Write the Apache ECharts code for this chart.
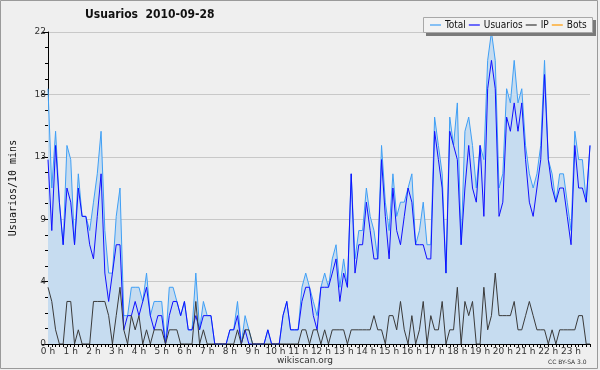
<!DOCTYPE html>
<html>
<head>
<meta charset="utf-8">
<script src="https://cdn.jsdelivr.net/npm/echarts@6/dist/echarts.min.js"></script>
<style>
html,body{margin:0;padding:0;background:#efefef;}
#c{width:600px;height:370px;}
</style>
</head>
<body>
<div id="c"></div>
<script>
// 10-minute slots over the day (144 slots), hour labels every 6 slots
const hourLabels = ['0 h','1 h','2 h','3 h','4 h','5 h','6 h','7 h','8 h','9 h','10 h','11 h','12 h','13 h','14 h','15 h','16 h','17 h','18 h','19 h','20 h','21 h','22 h','23 h'];
const yTicks = [0, 4.4, 8.8, 13.2, 17.6, 22];

const total = [
18,11,15,10,7,14, 13,7,12,9,9,8, 10,12,15,8,5,5, 9,11,2,2,4,4,
4,3,5,2,3,3, 3,0,4,4,3,2, 3,1,1,5,1,3, 2,2,0,0,0,0,
1,1,3,0,2,1, 0,0,0,0,1,0, 0,0,2,3,1,1, 1,4,5,4,3,2,
4,5,4,6,7,4, 6,4,12,6,8,8, 11,9,8,6,14,10, 8,12,9,10,10,11,
12,7,8,10,7,7, 16,14,12,5,16,14, 17,7,15,16,14,11, 14,13,20,22,20,11,
12,18,17,20,17,18, 14,12,11,12,14,20, 13,12,10,12,12,10, 8,15,13,13,10,14
];
const usuarios = [
13,8,14,10,7,11, 10,7,11,9,9,7, 6,9,12,5,3,5, 7,7,1,2,2,3,
2,3,4,2,1,2, 2,0,2,3,3,2, 3,1,1,2,1,2, 2,2,0,0,0,0,
1,1,2,0,1,0, 0,0,0,0,1,0, 0,0,2,3,1,1, 1,3,4,4,2,1,
4,4,4,5,6,3, 5,4,12,5,7,7, 10,8,6,6,13,9, 6,11,8,7,9,11,
10,7,7,7,6,6, 15,13,11,5,15,14, 13,7,11,14,11,10, 14,9,18,20,18,9,
10,16,15,17,15,17, 13,10,9,11,13,19, 13,11,10,11,11,9, 7,14,11,11,10,14
];
const ip = [
4,3,1,0,0,3, 3,0,1,0,0,0, 3,3,3,3,2,0, 2,4,1,0,2,1,
2,0,1,0,1,1, 1,0,1,1,1,0, 0,0,0,3,0,1, 0,0,0,0,0,0,
0,0,1,0,1,1, 0,0,0,0,0,0, 0,0,0,0,0,0, 0,1,1,0,1,1,
0,1,0,1,1,1, 1,0,1,1,1,1, 1,1,2,1,1,0, 2,2,1,3,1,0,
2,0,1,3,0,2, 1,1,3,0,1,1, 4,0,3,2,3,0, 0,4,1,2,5,2,
2,2,2,3,1,1, 2,3,2,1,1,1, 0,1,0,1,1,1, 1,1,2,2,0,0
];
const bots = [
0,0,0,0,0,0, 0,0,0,0,0,0, 0,0,0,0,0,0, 0,0,0,0,0,0,
0,0,0,0,0,0, 0,0,0,0,0,0, 0,0,0,0,0,0, 0,0,0,0,0,0,
0,0,0,0,0,0, 0,0,0,0,0,0, 0,0,0,0,0,0, 0,0,0,0,0,0,
0,0,0,0,0,0, 0,0,0,0,0,0, 0,0,0,0,0,0, 0,0,0,0,0,0,
0,0,0,0,0,0, 0,0,0,0,0,0, 0,0,0,0,0,0, 0,0,0,0,0,0,
0,0,0,0,0,0, 0,0,0,0,0,0, 0,0,0,0,0,0, 0,0,0,0,0,0
];

const slots = [];
for (let i = 0; i < total.length; i++) {
  slots.push(i % 6 === 0 ? hourLabels[i / 6] : '');
}

const chart = echarts.init(document.getElementById('c'), null, {renderer: 'canvas'});
const FONT = 'DejaVu Sans';
const NARROW = '"DejaVu Sans Condensed", "DejaVu Sans"';
chart.setOption({
  backgroundColor: '#efefef',
  animation: false,
  title: {
    text: 'Usuarios  2010-09-28',
    left: 85, top: 9, padding: 0,
    textStyle: {fontFamily: NARROW, fontSize: 12, fontWeight: 'bold', color: '#111'}
  },
  graphic: [
    {type: 'rect', silent: true, z: -10, shape: {x: 0.5, y: 0.5, width: 597, height: 368}, style: {fill: 'none', stroke: '#9a9a9a', lineWidth: 1}},
    {type: 'rect', silent: true, z: 90, shape: {x: 426, y: 20, width: 170, height: 16}, style: {fill: '#7a7a7a'}},
    {type: 'rect', silent: true, z: 91, shape: {x: 423.5, y: 17.5, width: 169, height: 15}, style: {fill: '#f2f2f2', stroke: '#a8a8a8', lineWidth: 1}},
    {type: 'text', silent: true, left: 277, top: 356, style: {text: 'wikiscan.org', font: '9px "DejaVu Sans"', fill: '#333'}},
    {type: 'text', silent: true, left: 548, top: 359, style: {text: 'CC BY-SA 3.0', font: '6px "DejaVu Sans"', fill: '#333'}}
  ],
  legend: {
    z: 100,
    left: 430, top: 20,
    icon: 'rect',
    itemWidth: 11, itemHeight: 1.2, itemGap: 3,
    padding: 0,
    textStyle: {fontFamily: NARROW, fontSize: 10, color: '#111', padding: [0, 0, 0, -1]},
    data: ['Total', 'Usuarios', 'IP', 'Bots']
  },
  grid: {left: 47, right: 10, top: 32, bottom: 26, containLabel: false},
  xAxis: {
    type: 'category',
    data: slots,
    boundaryGap: false,
    axisLine: {lineStyle: {color: '#000', width: 1}},
    axisTick: {show: true, interval: 0, length: 3, lineStyle: {color: '#000'}},
    axisLabel: {
      interval: function (i) { return i % 6 === 0; },
      margin: 3, fontFamily: FONT, fontSize: 9, color: '#333'
    },
    splitLine: {show: false}
  },
  yAxis: {
    type: 'value',
    min: yTicks[0], max: yTicks[yTicks.length - 1], interval: yTicks[1] - yTicks[0],
    name: 'Usuarios/10 mins',
    nameLocation: 'middle', nameGap: 30, nameRotate: 90,
    nameTextStyle: {fontFamily: 'DejaVu Sans Mono', fontSize: 10, color: '#111'},
    axisLine: {show: true, lineStyle: {color: '#000', width: 1}},
    axisTick: {show: true, length: 6, lineStyle: {color: '#000'}},
    minorTick: {show: true, splitNumber: 4, length: 3, lineStyle: {color: '#000'}},
    axisLabel: {
      formatter: function (v) { return String(Math.round(v)); },
      margin: 2, fontFamily: FONT, fontSize: 9, color: '#333'
    },
    splitLine: {show: true, lineStyle: {color: '#c8c8c8', width: 1}}
  },
  series: [
    {
      name: 'Total', type: 'line', data: total, symbol: 'none',
      lineStyle: {color: '#3f9ff5', width: 1},
      itemStyle: {color: '#3f9ff5'},
      areaStyle: {color: '#c6dcf0', opacity: 1},
      z: 2
    },
    {
      name: 'Usuarios', type: 'line', data: usuarios, symbol: 'none',
      lineStyle: {color: '#1010ff', width: 1},
      itemStyle: {color: '#1010ff'},
      z: 3
    },
    {
      name: 'IP', type: 'line', data: ip, symbol: 'none',
      lineStyle: {color: '#3a3a3a', width: 1},
      itemStyle: {color: '#3a3a3a'},
      z: 4
    },
    {
      name: 'Bots', type: 'line', data: bots, symbol: 'none',
      lineStyle: {color: '#ff9900', width: 1},
      itemStyle: {color: '#ff9900'},
      z: -1
    }
  ]
});
</script>
</body>
</html>
